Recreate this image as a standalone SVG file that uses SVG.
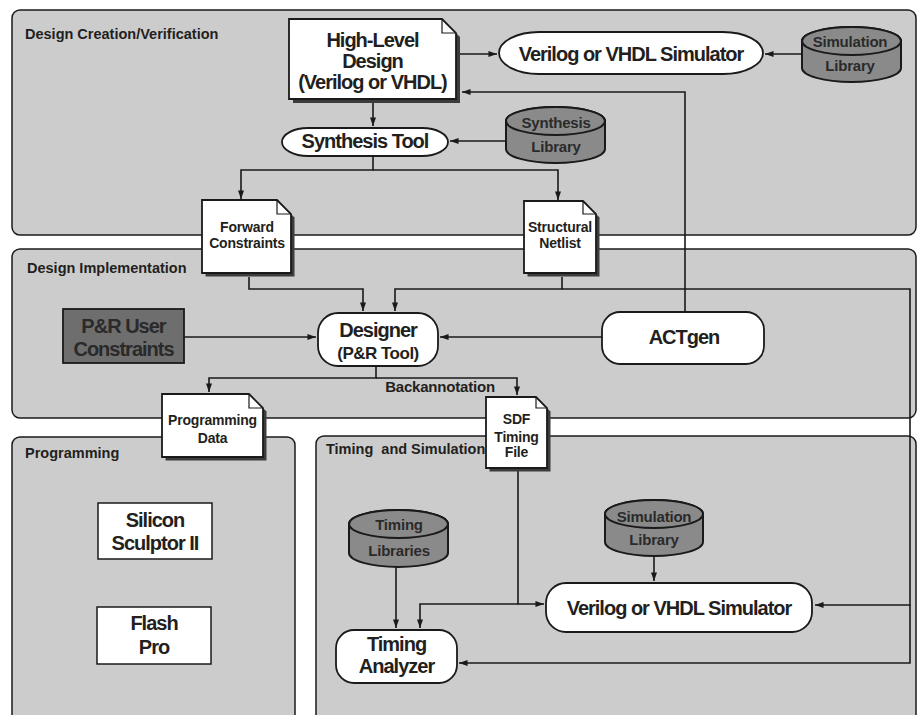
<svg xmlns="http://www.w3.org/2000/svg" width="917" height="715" viewBox="0 0 917 715">
<style>
.panel{fill:#cccccc;stroke:#1a1a1a;stroke-width:1.5}
.node{fill:#ffffff;stroke:#1a1a1a;stroke-width:1.8}
.shadow{fill:#3c3c3c;stroke:none}
.fold{fill:none;stroke:#1a1a1a;stroke-width:1.2}
.cyl{fill:#8a8a8a;stroke:#1a1a1a;stroke-width:2}
.dark{fill:#6e6e6e;stroke:#1a1a1a;stroke-width:1.8}
.conn{fill:none;stroke:#1a1a1a;stroke-width:1.6;marker-end:url(#arr)}
.line{fill:none;stroke:#1a1a1a;stroke-width:1.6}
text{font-family:"Liberation Sans",Arial,Helvetica,sans-serif;font-weight:bold;fill:#231f20}
.lbl{font-size:14.5px;white-space:pre}
.big{font-size:20px;letter-spacing:-1px;text-anchor:middle}
.med{font-size:17px;letter-spacing:-0.5px;text-anchor:middle}
.sm{font-size:14px;letter-spacing:-0.2px;text-anchor:middle}
.cy{font-size:15px;letter-spacing:-0.2px;text-anchor:middle;fill:#2a2a2a}
</style>
<defs>
<marker id="arr" viewBox="0 0 10 7" refX="10" refY="3.5" markerWidth="9" markerHeight="6" markerUnits="userSpaceOnUse" orient="auto">
<path d="M0,0 L10,3.5 L0,7 z" fill="#1a1a1a"/>
</marker>
</defs>
<rect width="917" height="715" fill="#ffffff"/>
<g id="panels">
<rect id="panel-creation" class="panel" x="12" y="10" width="904" height="225" rx="8"/>
<rect id="panel-impl" class="panel" x="12" y="249" width="904" height="169" rx="8"/>
<rect id="panel-prog" class="panel" x="12" y="437" width="283" height="300" rx="8"/>
<rect id="panel-timing" class="panel" x="316" y="436" width="600" height="300" rx="8"/>
<text class="lbl" x="25" y="39">Design Creation/Verification</text>
<text class="lbl" x="27" y="273">Design Implementation</text>
<text class="lbl" x="25" y="458">Programming</text>
<text class="lbl" x="326" y="454">Timing  and Simulation</text>
</g>
<g id="connectors">
<path class="conn" d="M460,54 H497"/>
<path class="conn" d="M802,54 H765"/>
<path class="conn" d="M685,312 V92 H462"/>
<path class="conn" d="M373,103 V126"/>
<path class="conn" d="M506,141 H450"/>
<path class="conn" d="M373,156 V170 H241 V199"/>
<path class="conn" d="M373,170 H558 V200"/>
<path class="conn" d="M249,277 V289 H363 V311"/>
<path class="conn" d="M562,277 V289 H395 V311"/>
<path class="conn" d="M562,289 H910 V605 H815"/>
<path class="conn" d="M910,605 V663 H459"/>
<path class="conn" d="M184,337 H316"/>
<path class="conn" d="M602,337 H440"/>
<path class="conn" d="M376,366 V378 H209 V392"/>
<path class="conn" d="M376,378 H517 V395"/>
<path class="conn" d="M518,471 V604 H544"/>
<path class="conn" d="M518,604 H420 V628"/>
<path class="conn" d="M396,567 V628"/>
<path class="conn" d="M654,556 V581"/>
<text class="sm" x="440" y="392" style="font-size:15px">Backannotation</text>
</g>
<g id="hld">
<polygon class="shadow" points="293,23 446,23 460,37 460,103 293,103"/>
<polygon class="node" points="289,19 442,19 456,33 456,99 289,99"/>
<polyline class="fold" points="442,19 442,33 456,33"/>
<text class="big" x="372.5" y="47">High-Level</text>
<text class="big" x="372.5" y="68">Design</text>
<text class="big" x="372.5" y="89">(Verilog or VHDL)</text>
</g>
<g id="sim-top">
<rect class="node" x="499" y="32" width="264" height="42" rx="40" ry="21"/>
<text class="big" x="631" y="61">Verilog or VHDL Simulator</text>
</g>
<g id="simlib-top">
<path class="cyl" d="M802,41 A49.5,14 0 0 1 901,41 L901,68 A49.5,14 0 0 1 802,68 Z"/>
<ellipse class="cyl" cx="851.5" cy="41" rx="49.5" ry="14"/>
<text class="cy" x="850" y="46.5">Simulation</text>
<text class="cy" x="850" y="71">Library</text>
</g>
<g id="synth-tool">
<rect class="node" x="282" y="128" width="166" height="28" rx="26" ry="14"/>
<text class="big" x="365" y="148">Synthesis Tool</text>
</g>
<g id="synthlib">
<path class="cyl" d="M506,121 A49.5,14 0 0 1 605,121 L605,149 A49.5,14 0 0 1 506,149 Z"/>
<ellipse class="cyl" cx="555.5" cy="121" rx="49.5" ry="14"/>
<text class="cy" x="556" y="128">Synthesis</text>
<text class="cy" x="556" y="151.5">Library</text>
</g>
<g id="fwd-constraints">
<polygon class="shadow" points="205.5,203.5 280.5,203.5 294.5,217.5 294.5,276.5 205.5,276.5"/>
<polygon class="node" points="202,200 277,200 291,214 291,273 202,273"/>
<polyline class="fold" points="277,200 277,214 291,214"/>
<text class="sm" x="247" y="232">Forward</text>
<text class="sm" x="247" y="248">Constraints</text>
</g>
<g id="struct-netlist">
<polygon class="shadow" points="527.5,204.5 586.5,204.5 599.5,217.5 599.5,276.5 527.5,276.5"/>
<polygon class="node" points="524,201 583,201 596,214 596,273 524,273"/>
<polyline class="fold" points="583,201 583,214 596,214"/>
<text class="sm" x="560" y="232">Structural</text>
<text class="sm" x="560" y="248">Netlist</text>
</g>
<g id="pr-user">
<rect class="dark" x="63" y="309" width="121" height="54"/>
<text class="big" x="123.5" y="333" style="fill:#2a2a2a">P&amp;R User</text>
<text class="big" x="123.5" y="356" style="fill:#2a2a2a">Constraints</text>
</g>
<g id="designer">
<rect class="node" x="318" y="313" width="120" height="53" rx="20"/>
<text class="big" x="378" y="337">Designer</text>
<text class="med" x="378" y="359">(P&amp;R Tool)</text>
</g>
<g id="actgen">
<rect class="node" x="602" y="312" width="162" height="52" rx="18"/>
<text class="big" x="684" y="344">ACTgen</text>
</g>
<g id="prog-data">
<polygon class="shadow" points="165.5,397.5 252.5,397.5 266.5,411.5 266.5,460.5 165.5,460.5"/>
<polygon class="node" points="162,394 249,394 263,408 263,457 162,457"/>
<polyline class="fold" points="249,394 249,408 263,408"/>
<text class="sm" x="212.5" y="425">Programming</text>
<text class="sm" x="212.5" y="443">Data</text>
</g>
<g id="sdf">
<polygon class="shadow" points="489.5,400.5 539.5,400.5 550.5,411.5 550.5,471.5 489.5,471.5"/>
<polygon class="node" points="486,397 536,397 547,408 547,468 486,468"/>
<polyline class="fold" points="536,397 536,408 547,408"/>
<text class="sm" x="516.5" y="424">SDF</text>
<text class="sm" x="516.5" y="441.5">Timing</text>
<text class="sm" x="516.5" y="457">File</text>
</g>
<g id="silicon-sculptor">
<rect class="node" x="98" y="503" width="114" height="56" style="stroke-width:1.5"/>
<text class="big" x="155" y="527">Silicon</text>
<text class="big" x="155" y="550">Sculptor II</text>
</g>
<g id="flash-pro">
<rect class="node" x="97" y="607" width="114" height="57" style="stroke-width:1.5"/>
<text class="big" x="154" y="630">Flash</text>
<text class="big" x="154" y="654">Pro</text>
</g>
<g id="timing-libs">
<path class="cyl" d="M349,524 A49.5,14 0 0 1 448,524 L448,553 A49.5,14 0 0 1 349,553 Z"/>
<ellipse class="cyl" cx="398.5" cy="524" rx="49.5" ry="14"/>
<text class="cy" x="399" y="530">Timing</text>
<text class="cy" x="399" y="556">Libraries</text>
</g>
<g id="simlib-bottom">
<path class="cyl" d="M605,514 A49,14 0 0 1 703,514 L703,542 A49,14 0 0 1 605,542 Z"/>
<ellipse class="cyl" cx="654" cy="514" rx="49" ry="14"/>
<text class="cy" x="654" y="521.5">Simulation</text>
<text class="cy" x="654" y="545">Library</text>
</g>
<g id="timing-analyzer">
<rect class="node" x="336" y="630" width="121" height="53" rx="18"/>
<text class="big" x="396.5" y="651">Timing</text>
<text class="big" x="396.5" y="673">Analyzer</text>
</g>
<g id="sim-bottom">
<rect class="node" x="546" y="583" width="266" height="49" rx="20"/>
<text class="big" x="679" y="615">Verilog or VHDL Simulator</text>
</g>
</svg>
